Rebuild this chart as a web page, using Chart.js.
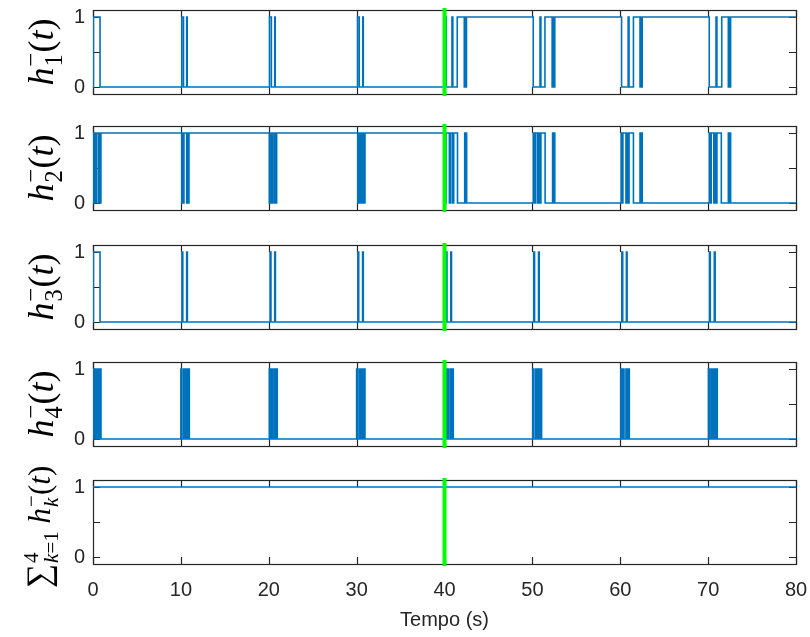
<!DOCTYPE html>
<html>
<head>
<meta charset="utf-8">
<script src="https://cdn.jsdelivr.net/npm/chart.js@4.4.0/dist/chart.umd.min.js"></script>
<style>
  html, body { margin: 0; padding: 0; background: #fff; }
  #fig { position: relative; width: 810px; height: 637px; overflow: hidden; }
  #fig canvas { position: absolute; left: 0; }
  .yl {
    position: absolute; left: 42px;
    transform: translate(-50%, -50%) rotate(-90deg);
    font: 36px 'Liberation Serif', 'DejaVu Serif', serif;
    white-space: nowrap; line-height: 1; color: #000;
  }
  .ss { display: inline-block; vertical-align: -0.38em; font-size: 0.68em; line-height: 0.95; font-style: normal; margin-left: 1px; }
  .ss span { display: block; }
  .sig { font-style: normal; font-size: 1.1em; }
  .sum { font-size: 31px; left: 41px; }
</style>
</head>
<body>
<div id="fig">
  <canvas id="c1" width="810" height="116" style="top:-6px"></canvas>
  <canvas id="c2" width="810" height="116" style="top:110px"></canvas>
  <canvas id="c3" width="810" height="116" style="top:229px"></canvas>
  <canvas id="c4" width="810" height="116" style="top:346px"></canvas>
  <canvas id="c5" width="810" height="173" style="top:464px"></canvas>

  <div class="yl" style="top:52px"><i>h</i><span class="ss"><span>−</span><span>1</span></span>(<i>t</i>)</div>
  <div class="yl" style="top:168px"><i>h</i><span class="ss"><span>−</span><span>2</span></span>(<i>t</i>)</div>
  <div class="yl" style="top:287px"><i>h</i><span class="ss"><span>−</span><span>3</span></span>(<i>t</i>)</div>
  <div class="yl" style="top:404px"><i>h</i><span class="ss"><span>−</span><span>4</span></span>(<i>t</i>)</div>
  <div class="yl sum" style="top:527px"><span class="sig">∑</span><span class="ss"><span>4</span><span><i>k</i>=1</span></span> <i>h</i><span class="ss"><span>−</span><span><i>k</i></span></span>(<i>t</i>)</div>
</div>

<script>
  // ── 坐标轴刻度 ──
  const xTicks = [0, 10, 20, 30, 40, 50, 60, 70, 80];
  const yTicks = [0, 0.5, 1];
  const yTickLabels = ['0', '', '1'];
  const markerTime = 40;

  // ── 各开关函数：初值 + 切换时刻（每个时刻 0/1 翻转）──
  const h1Init = 0;
  const h1Switches = [
    0.05, 0.8,
    10.1, 10.3, 10.66, 10.72,
    20.08, 20.3, 20.68, 20.74,
    30.1, 30.3, 30.7, 30.76,
    40.1, 40.2, 40.85, 40.95, 41.45, 42.25, 42.35, 42.42, 42.5,
    50.1, 50.87, 50.97, 51.43, 52.25, 52.35, 52.45, 52.55,
    60.15, 60.9, 61.0, 61.5, 62.25, 62.35, 62.42, 62.5,
    70.13, 70.9, 71.0, 71.55, 72.3, 72.4, 72.48, 72.56
  ];

  const h2Init = 1;
  const h2Switches = [
    0.05, 0.15, 0.28, 0.4, 0.62, 0.72, 0.8, 0.9,
    10.09, 10.19, 10.26, 10.35, 10.66, 10.74, 10.84, 10.92,
    20.06, 20.17, 20.32, 20.44, 20.63, 20.71, 20.82, 20.9,
    30.12, 30.22, 30.36, 30.46, 30.64, 30.74, 30.86, 30.95,
    40.05, 40.18, 40.55, 40.68, 40.9, 41.05, 41.48, 42.3, 42.38, 42.45, 42.52,
    50.1, 50.2, 50.32, 50.55, 50.7, 50.85, 50.97, 51.45, 52.3, 52.38, 52.46, 52.55,
    60.1, 60.2, 60.3, 60.65, 60.78, 60.9, 61.0, 61.5, 62.25, 62.33, 62.42, 62.5,
    70.13, 70.23, 70.35, 70.65, 70.78, 70.9, 71.0, 71.5, 72.3, 72.38, 72.47, 72.56
  ];

  const h3Init = 0;
  const h3Switches = [
    0.05, 0.8,
    10.12, 10.22, 10.66, 10.74,
    20.15, 20.25, 20.68, 20.76,
    30.14, 30.24, 30.68, 30.76,
    40.18, 40.28, 40.72, 40.8,
    50.15, 50.25, 50.7, 50.78,
    60.18, 60.28, 60.7, 60.78,
    70.15, 70.25, 70.7, 70.8
  ];

  const h4Init = 0;
  const h4Switches = [
    0.04, 0.15, 0.3, 0.42, 0.6, 0.7, 0.8, 0.91,
    10.0, 10.12, 10.32, 10.45, 10.58, 10.7, 10.84, 10.96,
    20.06, 20.18, 20.32, 20.44, 20.63, 20.74, 20.86, 20.97,
    30.0, 30.13, 30.33, 30.46, 30.57, 30.69, 30.83, 30.95,
    40.0, 40.12, 40.3, 40.43, 40.63, 40.74, 40.88, 41.0,
    50.03, 50.16, 50.37, 50.5, 50.67, 50.8, 50.92, 51.05,
    60.05, 60.17, 60.3, 60.43, 60.65, 60.77, 60.9, 61.03,
    70.03, 70.16, 70.35, 70.48, 70.59, 70.72, 70.9, 71.04
  ];

  const sumInit = 1;
  const sumSwitches = [];

  const BLUE = '#0072BD';
  const GREEN = '#00FF00';
  const AXIS = '#262626';
  const FONT = "'Liberation Sans', Arial, Helvetica, sans-serif";

  // ── 切换时刻 -> 阶梯点 ──
  function stepData(init, switches) {
    const pts = [{ x: xTicks[0], y: init }];
    let v = init;
    switches.forEach(t => { v = 1 - v; pts.push({ x: t, y: v }); });
    pts.push({ x: xTicks[xTicks.length - 1], y: v });
    return pts;
  }

  // ── 画框 + 内向刻度（MATLAB 风格）──
  const axesBox = {
    id: 'axesBox',
    beforeDatasetsDraw(chart) {
      const { ctx, chartArea: a, scales: { x, y } } = chart;
      ctx.save();
      ctx.strokeStyle = AXIS;
      ctx.lineWidth = 1.2;
      ctx.beginPath();
      xTicks.forEach(v => {
        const px = Math.round(x.getPixelForValue(v)) + 0.5;
        ctx.moveTo(px, a.bottom); ctx.lineTo(px, a.bottom - 7);
        ctx.moveTo(px, a.top); ctx.lineTo(px, a.top + 7);
      });
      yTicks.forEach(v => {
        const py = Math.round(y.getPixelForValue(v)) + 0.5;
        ctx.moveTo(a.left, py); ctx.lineTo(a.left + 7, py);
        ctx.moveTo(a.right, py); ctx.lineTo(a.right - 7, py);
      });
      ctx.stroke();
      ctx.strokeRect(a.left + 0.5, a.top + 0.5, a.right - a.left, a.bottom - a.top);
      ctx.restore();
    }
  };

  function makeChart(id, init, switches, isBottom) {
    const tickFont = { family: FONT, size: 20 };
    return new Chart(document.getElementById(id), {
      type: 'line',
      data: {
        datasets: [
          {
            data: [{ x: markerTime, y: -0.1 }, { x: markerTime, y: 1.1 }],
            borderColor: GREEN,
            borderWidth: 4,
            borderCapStyle: 'square',
            pointRadius: 0,
            clip: 6,
            order: 0
          },
          {
            data: stepData(init, switches),
            borderColor: BLUE,
            borderWidth: 1.6,
            stepped: 'before',
            pointRadius: 0,
            order: 1
          }
        ]
      },
      options: {
        responsive: false,
        devicePixelRatio: 1,
        animation: false,
        layout: { padding: { left: 0, right: 14, top: 16, bottom: isBottom ? 0 : 16 } },
        plugins: { legend: { display: false }, tooltip: { enabled: false } },
        scales: {
          x: {
            type: 'linear', min: 0, max: 80,
            grid: { display: false, drawTicks: false },
            border: { display: false },
            afterBuildTicks: s => { s.ticks = xTicks.map(v => ({ value: v })); },
            afterFit: s => {
              s.height = isBottom ? 73 : 0;
              s.paddingLeft = 0; s.paddingRight = 0;
            },
            ticks: { display: isBottom, autoSkip: false, maxRotation: 0, padding: 14, color: AXIS, font: tickFont },
            title: {
              display: isBottom, text: 'Tempo (s)', color: AXIS,
              font: { family: FONT, size: 20 }, padding: { top: 0, bottom: 5 }
            }
          },
          y: {
            type: 'linear', min: -0.1, max: 1.1,
            grid: { display: false, drawTicks: false },
            border: { display: false },
            afterBuildTicks: s => { s.ticks = yTicks.map(v => ({ value: v })); },
            afterFit: s => {
              s.width = 93;
              s.paddingTop = 0; s.paddingBottom = 0;
            },
            ticks: {
              padding: 8, color: AXIS, font: tickFont,
              callback: (v, i) => yTickLabels[i]
            }
          }
        }
      },
      plugins: [axesBox]
    });
  }

  makeChart('c1', h1Init, h1Switches, false);
  makeChart('c2', h2Init, h2Switches, false);
  makeChart('c3', h3Init, h3Switches, false);
  makeChart('c4', h4Init, h4Switches, false);
  makeChart('c5', sumInit, sumSwitches, true);
</script>
</body>
</html>
